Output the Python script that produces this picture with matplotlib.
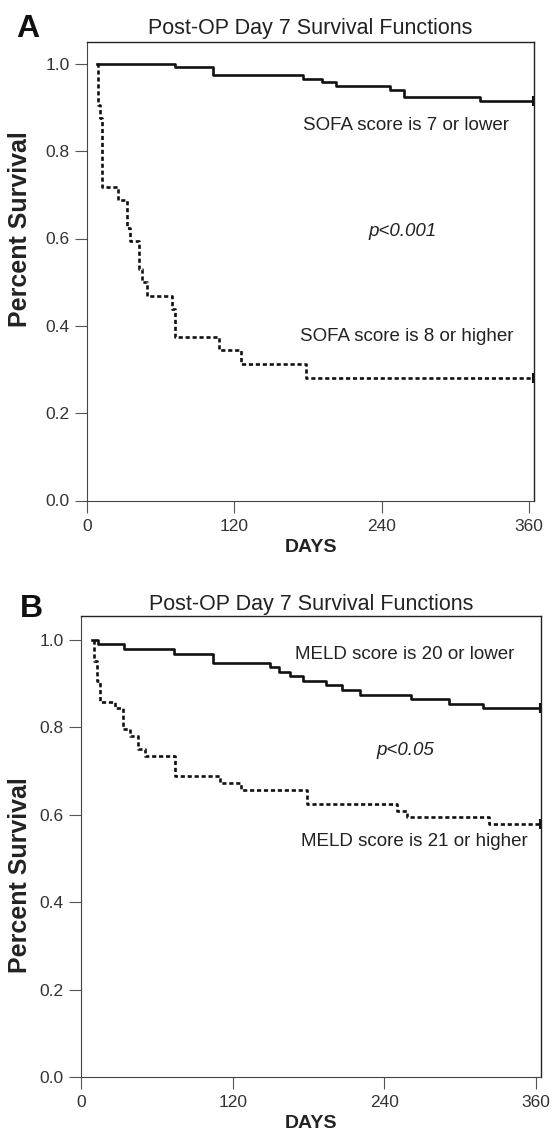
import matplotlib
matplotlib.use("Agg")
import matplotlib.pyplot as plt

plt.rcParams["font.family"] = ["Liberation Sans", "DejaVu Sans"]
plt.rcParams["lines.scale_dashes"] = False

# Panel A: SOFA groups (Kaplan-Meier steps, days after op)
sofa_low_days = [8, 72, 103, 176, 191, 203, 247, 258, 320, 363]
sofa_low_surv = [1.0, 0.992, 0.975, 0.966, 0.958, 0.949, 0.941, 0.924, 0.915, 0.915]
sofa_high_days = [8, 8.7, 10.6, 12, 25.4, 32.3, 35, 42.3, 44.5, 48.5,
                  68.9, 71.5, 107.6, 125.2, 178, 363]
sofa_high_surv = [1.0, 0.906, 0.875, 0.719, 0.688, 0.625, 0.594, 0.531, 0.5,
                  0.469, 0.438, 0.375, 0.344, 0.313, 0.281, 0.281]

# Panel B: MELD groups
meld_low_days = [9, 13.7, 34.3, 73.7, 104.4, 149.3, 157, 165.7, 175.8, 193.5,
                 206.7, 221, 261, 291, 317.8, 363]
meld_low_surv = [1.0, 0.990, 0.979, 0.969, 0.948, 0.938, 0.927, 0.917, 0.906,
                 0.896, 0.885, 0.875, 0.865, 0.854, 0.844, 0.844]
meld_high_days = [10, 10.5, 12.5, 15, 27, 33.5, 39, 45, 51, 74.5, 110, 127,
                  179, 250, 258, 323, 363]
meld_high_surv = [1.0, 0.953, 0.906, 0.859, 0.844, 0.797, 0.781, 0.75, 0.734,
                  0.688, 0.672, 0.656, 0.625, 0.609, 0.594, 0.578, 0.578]

x_ticks = [0, 120, 240, 360]
y_ticks = [0.0, 0.2, 0.4, 0.6, 0.8, 1.0]

W, H = 556, 1131
fig = plt.figure(figsize=(W / 100, H / 100), dpi=100)


def px_rect(left, right, top, bottom):
    return [left / W, 1 - bottom / H, (right - left) / W, (bottom - top) / H]


def draw_panel(ax, low_d, low_s, high_d, high_s, ytop):
    ax.step(low_d, low_s, where="post", color="#111", lw=1.9)
    ax.step(high_d, high_s, where="post", color="#111", lw=1.9,
            linestyle=(0, (3, 2)), dash_capstyle="butt")
    # censor marks at end of follow-up
    ax.plot(low_d[-1], low_s[-1], marker="|", ms=7, mew=1.5, color="#111")
    ax.plot(high_d[-1], high_s[-1], marker="|", ms=7, mew=1.5, color="#111")
    ax.set_xlim(0, 364)
    ax.set_ylim(0, ytop)
    ax.set_xticks(x_ticks)
    ax.set_yticks(y_ticks)
    ax.set_yticklabels([f"{v:.1f}" for v in y_ticks])
    ax.tick_params(direction="out", length=8.3, width=0.8, color="#555",
                   labelcolor="#333", labelsize=12.5)
    ax.tick_params(axis="x", pad=5)
    ax.tick_params(axis="y", pad=4)
    for side in ("left", "bottom"):
        ax.spines[side].set_linewidth(0.8)
        ax.spines[side].set_color("#444")
    for side in ("top", "right"):
        ax.spines[side].set_linewidth(1.0)
        ax.spines[side].set_color("#222")


axA = fig.add_axes(px_rect(87, 534, 42, 500.5))
draw_panel(axA, sofa_low_days, sofa_low_surv, sofa_high_days, sofa_high_surv, 1.05)
axA.text(260, 0.858, "SOFA score is 7 or lower", ha="center", va="center",
         fontsize=13.5, color="#222")
axA.text(257, 0.616, "p<0.001", ha="center", va="center", fontsize=13.5,
         style="italic", color="#222")
axA.text(260, 0.375, "SOFA score is 8 or higher", ha="center", va="center",
         fontsize=13.5, color="#222")

axB = fig.add_axes(px_rect(81, 541, 616, 1077))
draw_panel(axB, meld_low_days, meld_low_surv, meld_high_days, meld_high_surv, 1.055)
axB.text(256, 0.966, "MELD score is 20 or lower", ha="center", va="center",
         fontsize=13.5, color="#222")
axB.text(257, 0.748, "p<0.05", ha="center", va="center", fontsize=13.5,
         style="italic", color="#222")
axB.text(264, 0.538, "MELD score is 21 or higher", ha="center", va="center",
         fontsize=13.5, color="#222")

# titles, panel letters and axis labels
for letter, lx, lbase, tbase, cx, ylab_c, dbase in [
        ("A", 16, 37, 34, 310.5, 229, 552),
        ("B", 19.6, 617, 610, 311, 875, 1128)]:
    fig.text(lx / W, 1 - lbase / H, letter, fontsize=23, fontweight="bold",
             va="baseline", ha="left", color="#111")
    fig.text(cx / W, 1 - tbase / H, "Post-OP Day 7 Survival Functions",
             fontsize=15.5, va="baseline", ha="center", color="#222")
    fig.text(20 / W, 1 - ylab_c / H, "Percent Survival", rotation=90,
             fontsize=18, fontweight="bold", va="center", ha="center",
             color="#222")
    fig.text(cx / W, 1 - dbase / H, "DAYS", fontsize=14, fontweight="bold",
             va="baseline", ha="center", color="#222")

fig.savefig("out.png", dpi=100)
